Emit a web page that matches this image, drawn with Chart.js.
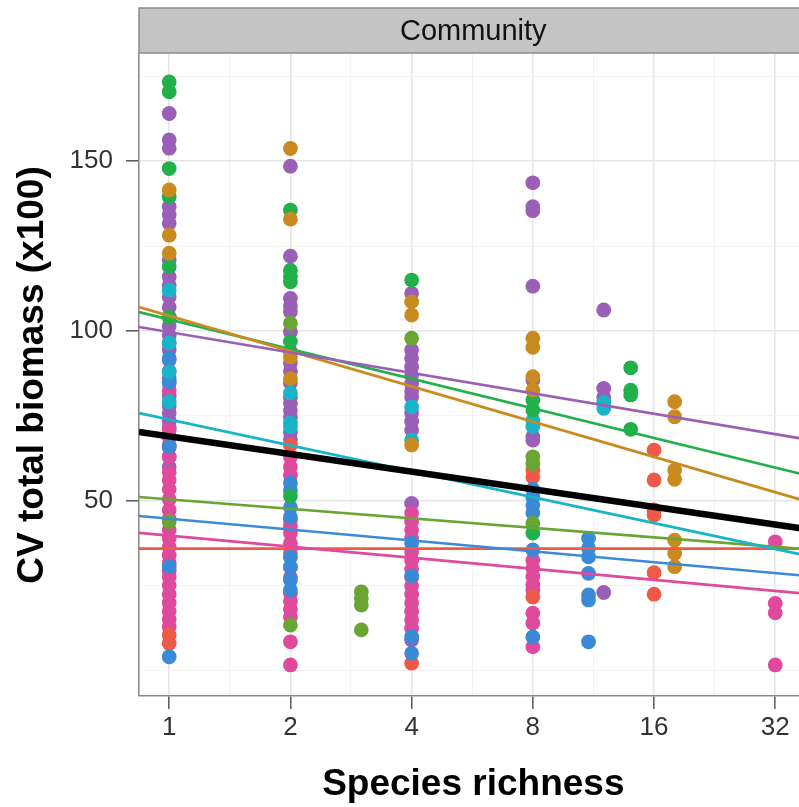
<!DOCTYPE html>
<html><head><meta charset="utf-8">
<style>html,body{margin:0;padding:0;background:#fff;overflow:hidden}#wrap{width:815px;height:807px}</style>
<script src="https://cdn.jsdelivr.net/npm/chart.js@4.4.1/dist/chart.umd.min.js"></script>
</head><body><div id="wrap"><canvas id="c" width="815" height="807" style="width:815px;height:807px"></canvas></div>
<script>
// ---- data ----
const richnessTicks = [1, 2, 4, 8, 16, 32];
const yTickLabels = [50, 100, 150];
const yMinorTicks = [0, 25, 75, 125, 175];

const purplePts = [[1,164],[1,156.2],[1,153.8],[1,136.6],[1,134.2],[1,131.7],[1,120.9],[1,116],[1,113.5],[1,110],[1,107],[1,104.2],[1,101.5],[1,98.8],[1,96.5],[1,94.5],[1,91.5],[1,88.2],[1,86],[1,84.7],[1,81],[1,78],[1,75.9],[1,73.6],[1,71.6],[1,68.8],[1,65.9],[1,63],[1,60],
  [2,148.5],[2,122],[2,109.6],[2,107.4],[2,105.7],[2,99.8],[2,94],[2,90.6],[2,88.2],[2,84.7],[2,80.5],[2,78.8],[2,76.6],[2,74.7],[2,70.2],[2,68],
  [4,111.1],[4,94.4],[4,92],[4,89.5],[4,87],[4,84.6],[4,82.4],[4,80.6],[4,75.9],[4,73.4],[4,70.9],[4,49.3],[4,9.1],
  [8,143.6],[8,136.6],[8,135.4],[8,113.2],[8,85.6],[8,68.9],[8,67.9],
  [12,106.2],[12,83.1],[12,80.5],[12,23.1]];
const pinkPts = [[1,82.6],[1,70.9],[1,66.5],[1,63],[1,58.5],[1,56.2],[1,53.5],[1,50.5],[1,47.4],[1,44.8],[1,41.5],[1,39],[1,36.5],[1,34],[1,31.8],[1,29.5],[1,27.7],[1,25.2],[1,22.6],[1,20.1],[1,17.6],[1,15.2],[1,13],
  [2,63],[2,60],[2,57.5],[2,44.4],[2,42.5],[2,40.6],[2,37.6],[2,34.7],[2,30.6],[2,27.6],[2,22.9],[2,20.5],[2,18.2],[2,15.9],[2,8.6],[2,1.8],
  [4,46.5],[4,44],[4,41.5],[4,39],[4,35],[4,32.5],[4,30],[4,27.5],[4,25],[4,22.5],[4,20],[4,17.5],[4,15],[4,12.5],
  [8,32.6],[8,30.2],[8,27.8],[8,25.4],[8,23.8],[8,17],[8,14.1],[8,7.1],
  [32,38],[32,19.9],[32,17.1],[32,1.8]];
const orangePts = [[1,141.5],[1,128.2],[1,122.9],[2,153.7],[2,132.9],[2,92.4],[2,86],[4,108.6],[4,104.7],[4,66.5],
  [8,97.9],[8,95.2],[8,86.6],[8,82.6],[18,79.2],[18,74.8],[18,59.1],[18,56.4],[18,38.5],[18,34.6],[18,30.7]];
const greenPts = [[1,173.3],[1,170.4],[1,147.8],[1,139.5],[1,118.9],[1,104],[2,135.6],[2,117.9],[2,116.1],[2,114.5],[2,96.9],[2,51.5],
  [4,115],[8,79.7],[8,76.8],[8,40.6],[14,89.2],[14,82.6],[14,81.2],[14,71.1]];
const cyanPts = [[1,112],[1,96.5],[1,88],[1,79.2],[2,81.8],[2,73],[2,71.8],[4,77.7],[4,67.9],[8,71.9],[8,73.8],[12,79],[12,77.3]];
const olivePts = [[1,43.9],[2,102.3],[2,13.5],[3,23.3],[3,21.4],[3,19.4],[3,12.1],[4,97.9],[8,63],[8,61],[8,43.5]];
const bluePts = [[1,92],[1,85],[1,66],[1,30.7],[1,4.2],[2,55.3],[2,53.2],[2,48.2],[2,45.3],[2,33.5],[2,30.6],[2,26.8],[2,23.8],
  [4,37.6],[4,28],[4,10.1],[4,5.2],[8,53.5],[8,51.2],[8,48.8],[8,46.5],[8,35.6],[8,10],
  [11,39],[11,36.1],[11,33.6],[11,28.7],[11,22.4],[11,20.9],[11,8.6]];
const redPts = [[1,10.6],[1,8.1],[2,66.5],[4,2.3],[8,59.1],[8,57.1],[8,21.8],[16,65],[16,56.2],[16,47.4],[16,45.9],[16,28.9],[16,22.6]];

// fitted lines: value at richness 1 and change per doubling
const fitNames     = ['purple','orange','green','cyan','olive','blue','pink','red','all'];
const fitIntercept = [99.7, 104.5, 103.4, 74.0, 50.5, 44.8, 39.8, 36.0, 69.0];
const fitSlope     = [-6.01, -10.38, -8.71, -7.62, -2.79, -3.20, -3.25, 0, -5.18];

const colors = {purple:'#9a5fb6', pink:'#df4a9c', orange:'#c98b1f', green:'#22b04b', cyan:'#18b4c7', olive:'#6aa534', blue:'#3a8ad7', red:'#ef5a48', all:'#000000'};

// ---- chart ----
const X_MIN = 0.8414, X_MAX = 38.5, Y_MIN = -7.35, Y_MAX = 181.5;
const xMinor = richnessTicks.slice(0, -1).map((v, i) => Math.sqrt(v * richnessTicks[i + 1]));
const xAll = richnessTicks.concat(xMinor).sort((a, b) => a - b);
const yAll = yTickLabels.concat(yMinorTicks).sort((a, b) => a - b);

const toXY = arr => arr.map(p => ({x: p[0], y: p[1]}));
const pointSets = [
  ['pink', pinkPts, 3], ['purple', purplePts, 3],
  ['orange', orangePts, 2], ['green', greenPts, 2], ['cyan', cyanPts, 2],
  ['olive', olivePts, 2], ['blue', bluePts, 2], ['red', redPts, 2]
];
const datasets = pointSets.map(([name, pts, ord]) => ({
  type: 'scatter', data: toXY(pts), pointRadius: 7.4, pointHoverRadius: 7.4,
  pointBackgroundColor: colors[name], pointBorderWidth: 0, borderWidth: 0, order: ord
}));
fitNames.forEach((name, i) => {
  const f = x => fitIntercept[i] + fitSlope[i] * Math.log2(x);
  datasets.push({
    type: 'line', data: [{x: X_MIN, y: f(X_MIN)}, {x: X_MAX, y: f(X_MAX)}],
    borderColor: colors[name], borderWidth: name === 'all' ? 6.5 : 2.7,
    pointRadius: 0, fill: false, tension: 0, order: name === 'all' ? -2 : -1
  });
});

const stripPlugin = {
  id: 'strip',
  afterDraw(chart) {
    const {ctx, chartArea: a} = chart;
    ctx.save();
    ctx.fillStyle = '#c4c4c4';
    ctx.fillRect(a.left, 8, a.right - a.left, a.top - 9);
    ctx.strokeStyle = '#8a8a8a';
    ctx.lineWidth = 1.5;
    ctx.strokeRect(a.left, 8, a.right - a.left, a.top - 9);
    ctx.fillStyle = '#111';
    ctx.font = "29px 'Liberation Sans', Arial, sans-serif";
    ctx.textAlign = 'center';
    ctx.textBaseline = 'middle';
    ctx.fillText('Community', (a.left + a.right) / 2, 8 + (a.top - 9) / 2 + 1);
    ctx.restore();
  }
};

Chart.defaults.font.family = "'Liberation Sans', Arial, sans-serif";
new Chart(document.getElementById('c'), {
  type: 'scatter',
  data: {datasets},
  plugins: [stripPlugin],
  options: {
    responsive: false, animation: false, devicePixelRatio: 1,
    layout: {padding: {top: 54, right: 7, left: 0, bottom: 0}},
    plugins: {legend: {display: false}, tooltip: {enabled: false}},
    scales: {
      x: {
        type: 'logarithmic', min: X_MIN, max: X_MAX,
        afterBuildTicks: s => { s.ticks = xAll.map(v => ({value: v})); },
        afterFit: s => { s.height = 111; },
        ticks: {
          autoSkip: false, maxRotation: 0, padding: 3, color: '#333',
          font: {size: 26},
          callback: v => richnessTicks.includes(v) ? String(v) : ''
        },
        grid: {
          color: c => (c.tick && richnessTicks.includes(c.tick.value)) ? '#e6e6e6' : '#f3f3f3',
          lineWidth: c => (c.tick && richnessTicks.includes(c.tick.value)) ? 1.6 : 1.1,
          tickColor: c => (c.tick && richnessTicks.includes(c.tick.value)) ? '#555' : 'rgba(0,0,0,0)',
          tickWidth: 1.5, tickLength: 13, drawTicks: true
        },
        border: {display: true, color: '#8c8c8c', width: 1.6},
        title: {display: true, text: 'Species richness', color: '#000', font: {size: 37, weight: 'bold'}, padding: {top: 0, bottom: 0}}
      },
      y: {
        type: 'linear', min: Y_MIN, max: Y_MAX,
        afterBuildTicks: s => { s.ticks = yAll.map(v => ({value: v})); },
        afterFit: s => { s.width = 139; },
        ticks: {
          autoSkip: false, padding: 13, color: '#333', font: {size: 26},
          callback: v => yTickLabels.includes(v) ? String(v) : ''
        },
        grid: {
          color: c => (c.tick && yTickLabels.includes(c.tick.value)) ? '#e6e6e6' : '#f3f3f3',
          lineWidth: c => (c.tick && yTickLabels.includes(c.tick.value)) ? 1.6 : 1.1,
          tickColor: c => (c.tick && yTickLabels.includes(c.tick.value)) ? '#555' : 'rgba(0,0,0,0)',
          tickWidth: 1.5, tickLength: 13, drawTicks: true
        },
        border: {display: true, color: '#8c8c8c', width: 1.6},
        title: {display: true, text: 'CV total biomass (x100)', color: '#000', font: {size: 37, weight: 'bold'}, padding: {top: 11, bottom: 0}}
      }
    }
  }
});
</script></body></html>
